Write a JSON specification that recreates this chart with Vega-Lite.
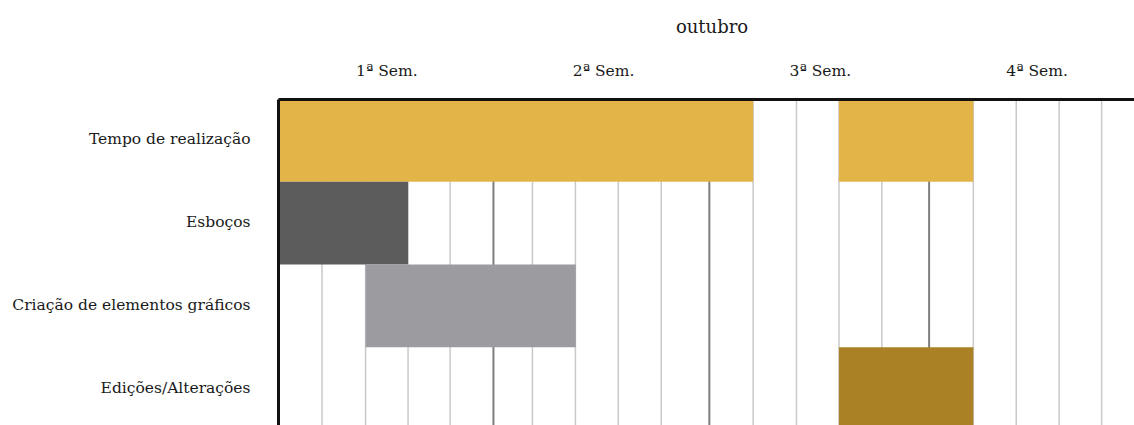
{
  "$schema": "https://vega.github.io/schema/vega-lite/v6.json",
  "autosize": {"type": "none"},
  "padding": {"left": 278, "top": 99, "right": 0, "bottom": 0},
  "width": 856,
  "height": 326,
  "background": "white",
  "config": {
    "view": {"stroke": null},
    "font": "DejaVu Serif",
    "axisX": {
      "titleFont": "DejaVu Serif",
      "titleFontSize": 18,
      "titleFontWeight": "normal",
      "titleColor": "#1a1a1a",
      "titlePadding": 27,
      "labelFont": "DejaVu Serif",
      "labelFontSize": 15.5,
      "labelColor": "#1a1a1a",
      "labelBaseline": "middle",
      "labelPadding": 29,
      "labelFlush": false,
      "labelOverlap": false,
      "ticks": false,
      "tickSize": 0,
      "grid": false,
      "domain": true,
      "domainColor": "#111111",
      "domainWidth": 3
    }
  },
  "datasets": {
    "tarefas": [
      {"tarefa": "Tempo de realização", "inicio": 0, "fim": 10.96},
      {"tarefa": "Tempo de realização", "inicio": 12.94, "fim": 16.04},
      {"tarefa": "Esboços", "inicio": 0, "fim": 3.0},
      {"tarefa": "Criação de elementos gráficos", "inicio": 2.02, "fim": 6.87},
      {"tarefa": "Edições/Alterações", "inicio": 12.94, "fim": 16.04}
    ],
    "grade": [
      {"pos": 1.015, "tipo": "dia"},
      {"pos": 2.02, "tipo": "dia"},
      {"pos": 3.0, "tipo": "dia"},
      {"pos": 3.97, "tipo": "dia"},
      {"pos": 4.97, "tipo": "semana"},
      {"pos": 5.87, "tipo": "dia"},
      {"pos": 6.86, "tipo": "dia"},
      {"pos": 7.85, "tipo": "dia"},
      {"pos": 8.84, "tipo": "dia"},
      {"pos": 9.95, "tipo": "semana"},
      {"pos": 10.96, "tipo": "dia"},
      {"pos": 11.96, "tipo": "dia"},
      {"pos": 12.94, "tipo": "dia"},
      {"pos": 13.93, "tipo": "dia"},
      {"pos": 15.02, "tipo": "semana"},
      {"pos": 16.04, "tipo": "dia"},
      {"pos": 17.03, "tipo": "dia"},
      {"pos": 18.02, "tipo": "dia"},
      {"pos": 19.0, "tipo": "dia"}
    ]
  },
  "layer": [
    {
      "data": {"name": "grade"},
      "transform": [{"filter": "datum.tipo === 'dia'"}],
      "mark": {"type": "rule", "color": "#c9c9c9", "strokeWidth": 1.5},
      "encoding": {
        "x": {
          "field": "pos",
          "type": "quantitative",
          "scale": {"domain": [0, 20], "range": [0, 867], "nice": false, "zero": false},
          "axis": {
            "orient": "top",
            "title": "outubro",
            "values": [2.5, 7.5, 12.5, 17.5],
            "labelExpr": "(floor(datum.value / 5) + 1) + 'ª Sem.'",
            "zindex": 2
          }
        }
      }
    },
    {
      "data": {"name": "grade"},
      "transform": [{"filter": "datum.tipo === 'semana'"}],
      "mark": {"type": "rule", "color": "#7f7f7f", "strokeWidth": 2},
      "encoding": {
        "x": {
          "field": "pos",
          "type": "quantitative",
          "axis": {
            "orient": "top",
            "title": "outubro",
            "values": [2.5, 7.5, 12.5, 17.5],
            "labelExpr": "(floor(datum.value / 5) + 1) + 'ª Sem.'",
            "zindex": 2
          }
        }
      }
    },
    {
      "data": {"name": "tarefas"},
      "mark": {"type": "bar", "cornerRadius": 0},
      "encoding": {
        "x": {
          "field": "inicio",
          "type": "quantitative",
          "axis": {
            "orient": "top",
            "title": "outubro",
            "values": [2.5, 7.5, 12.5, 17.5],
            "labelExpr": "(floor(datum.value / 5) + 1) + 'ª Sem.'",
            "zindex": 2
          }
        },
        "x2": {"field": "fim"},
        "y": {
          "field": "tarefa",
          "type": "nominal",
          "sort": ["Tempo de realização", "Esboços", "Criação de elementos gráficos", "Edições/Alterações"],
          "scale": {"range": [0, 331], "paddingInner": 0, "paddingOuter": 0},
          "axis": {
            "title": null,
            "ticks": false,
            "tickSize": 0,
            "labelPadding": 28,
            "labelFont": "DejaVu Serif",
            "labelFontSize": 15.5,
            "labelColor": "#1a1a1a",
            "labelOffset": -1,
            "labelLimit": 400,
            "domain": true,
            "domainColor": "#111111",
            "domainWidth": 3,
            "zindex": 2
          }
        },
        "color": {
          "field": "tarefa",
          "type": "nominal",
          "legend": null,
          "scale": {
            "domain": ["Tempo de realização", "Esboços", "Criação de elementos gráficos", "Edições/Alterações"],
            "range": ["#e3b549", "#5c5c5d", "#9c9b9f", "#ab8126"]
          }
        }
      }
    }
  ]
}
